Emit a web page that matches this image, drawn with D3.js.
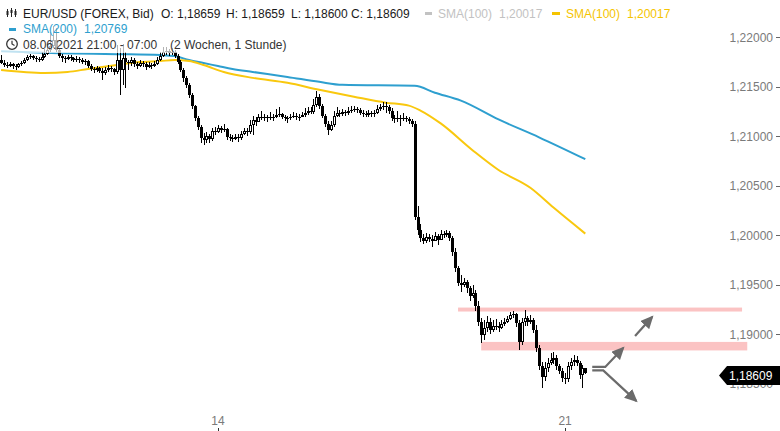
<!DOCTYPE html>
<html><head><meta charset="utf-8">
<script src="https://cdn.jsdelivr.net/npm/d3@7"></script>
<style>html,body{margin:0;padding:0;background:#fff;} svg{display:block;font-family:"Liberation Sans",Arial,sans-serif;}</style>
</head><body><svg id="c" width="780" height="431"></svg>
<script>
// ---- data (hourly EUR/USD candles, index 0..202) ----
const firstOpen = 1.2177;
const closes = [1.2174,1.2172,1.2171,1.2173,1.2171,1.2170,1.2173,1.2174,1.2177,1.2180,
1.2181,1.2179,1.2178,1.2177,1.2180,1.2183,1.2187,1.2191,1.2197,1.2187,
1.2181,1.2179,1.2178,1.2180,1.2179,1.2177,1.2178,1.2177,1.2175,1.2176,
1.2171,1.2168,1.2167,1.2169,1.2166,1.2164,1.2167,1.2169,1.2168,1.2165,
1.2177,1.2167,1.2179,1.2175,1.2174,1.2177,1.2173,1.2171,1.2174,1.2173,
1.2170,1.2172,1.2171,1.2173,1.2177,1.2181,1.2185,1.2186,1.2184,1.2185,
1.2181,1.2175,1.2167,1.2159,1.2152,1.2142,1.2131,1.2118,1.2109,1.2098,
1.2096,1.2100,1.2097,1.2105,1.2104,1.2108,1.2106,1.2107,1.2099,1.2098,
1.2097,1.2099,1.2098,1.2102,1.2105,1.2104,1.2111,1.2116,1.2114,1.2119,
1.2120,1.2119,1.2118,1.2120,1.2119,1.2122,1.2123,1.2120,1.2118,1.2118,
1.2119,1.2121,1.2119,1.2120,1.2122,1.2124,1.2126,1.2125,1.2132,1.2140,
1.2131,1.2121,1.2112,1.2106,1.2111,1.2121,1.2124,1.2123,1.2125,1.2124,
1.2126,1.2127,1.2128,1.2127,1.2124,1.2123,1.2122,1.2124,1.2123,1.2124,
1.2128,1.2130,1.2131,1.2130,1.2126,1.2118,1.2117,1.2118,1.2117,1.2118,
1.2117,1.2115,1.2112,1.2018,1.2005,1.1997,1.1994,1.1998,1.1996,1.1994,
1.1999,1.1995,1.2001,1.2000,1.2002,1.1997,1.1983,1.1967,1.1952,1.1950,
1.1953,1.1947,1.1939,1.1942,1.1929,1.1912,1.1899,1.1906,1.1912,1.1904,
1.1908,1.1908,1.1906,1.1910,1.1912,1.1915,1.1919,1.1921,1.1911,1.1892,
1.1912,1.1916,1.1912,1.1914,1.1904,1.1886,1.1868,1.1857,1.1866,1.1871,
1.1874,1.1876,1.1868,1.1863,1.1856,1.1855,1.1868,1.1872,1.1874,1.1871,
1.1859,1.18659,1.18609];
const highs = [1.2182,1.2177,1.2175,1.2175,1.2174,1.2173,1.2174,1.2176,1.2179,1.2182,
1.2183,1.2182,1.2181,1.2180,1.2185,1.2188,1.2193,1.2205,1.2211,1.2209,
1.2188,1.2183,1.2181,1.2182,1.2182,1.2180,1.2181,1.2180,1.2179,1.2178,
1.2177,1.2173,1.2170,1.2171,1.2170,1.2169,1.2170,1.2172,1.2171,1.2169,
1.2192,1.2189,1.2193,1.2185,1.2177,1.2180,1.2179,1.2175,1.2177,1.2176,
1.2175,1.2175,1.2174,1.2176,1.2180,1.2185,1.2190,1.2190,1.2188,1.2189,
1.2187,1.2183,1.2177,1.2169,1.2161,1.2154,1.2144,1.2132,1.2121,1.2111,
1.2103,1.2104,1.2102,1.2108,1.2109,1.2111,1.2110,1.2112,1.2108,1.2102,
1.2101,1.2102,1.2102,1.2105,1.2108,1.2108,1.2116,1.2121,1.2119,1.2123,
1.2126,1.2123,1.2122,1.2125,1.2123,1.2128,1.2130,1.2124,1.2122,1.2121,
1.2123,1.2125,1.2124,1.2123,1.2125,1.2129,1.2130,1.2130,1.2138,1.2146,
1.2143,1.2133,1.2123,1.2115,1.2115,1.2126,1.2130,1.2127,1.2128,1.2127,
1.2130,1.2131,1.2131,1.2130,1.2129,1.2127,1.2126,1.2127,1.2126,1.2127,
1.2132,1.2133,1.2135,1.2135,1.2132,1.2129,1.2122,1.2126,1.2122,1.2124,
1.2121,1.2119,1.2117,1.2115,1.2030,1.2011,1.2001,1.2002,1.2001,1.2000,
1.2003,1.2001,1.2005,1.2004,1.2005,1.2004,1.1999,1.1987,1.1969,1.1960,
1.1957,1.1955,1.1949,1.1950,1.1945,1.1934,1.1916,1.1914,1.1918,1.1916,
1.1914,1.1915,1.1912,1.1914,1.1916,1.1918,1.1923,1.1924,1.1922,1.1914,
1.1916,1.1925,1.1918,1.1919,1.1916,1.1909,1.1889,1.1872,1.1872,1.1876,
1.1881,1.1882,1.1879,1.1870,1.1866,1.1861,1.1872,1.1876,1.1879,1.1878,
1.1873,1.1869,1.18659];
const lows = [1.2173,1.2170,1.2169,1.2170,1.2168,1.2167,1.2169,1.2171,1.2173,1.2176,
1.2178,1.2177,1.2175,1.2175,1.2176,1.2179,1.2182,1.2185,1.2189,1.2185,
1.2179,1.2175,1.2174,1.2177,1.2176,1.2175,1.2175,1.2174,1.2173,1.2172,
1.2169,1.2166,1.2164,1.2165,1.2164,1.2157,1.2162,1.2165,1.2165,1.2162,
1.2163,1.2142,1.2152,1.2149,1.2167,1.2171,1.2170,1.2168,1.2170,1.2170,
1.2167,1.2169,1.2168,1.2170,1.2172,1.2176,1.2180,1.2182,1.2181,1.2182,
1.2179,1.2173,1.2165,1.2155,1.2149,1.2139,1.2128,1.2115,1.2106,1.2093,
1.2091,1.2093,1.2093,1.2095,1.2101,1.2103,1.2103,1.2104,1.2096,1.2095,
1.2094,1.2096,1.2094,1.2096,1.2101,1.2100,1.2102,1.2101,1.2110,1.2115,
1.2116,1.2115,1.2114,1.2116,1.2115,1.2118,1.2119,1.2117,1.2115,1.2113,
1.2116,1.2118,1.2116,1.2115,1.2119,1.2120,1.2122,1.2123,1.2123,1.2130,
1.2128,1.2118,1.2109,1.2101,1.2105,1.2109,1.2120,1.2120,1.2121,1.2121,
1.2122,1.2124,1.2125,1.2124,1.2122,1.2120,1.2119,1.2120,1.2119,1.2120,
1.2123,1.2126,1.2127,1.2124,1.2123,1.2115,1.2113,1.2114,1.2110,1.2115,
1.2114,1.2112,1.2109,1.2015,1.2000,1.1993,1.1991,1.1992,1.1993,1.1988,
1.1994,1.1990,1.1998,1.1997,1.1998,1.1994,1.1979,1.1963,1.1949,1.1943,
1.1948,1.1942,1.1934,1.1937,1.1924,1.1908,1.1891,1.1894,1.1902,1.1900,
1.1902,1.1904,1.1902,1.1905,1.1908,1.1911,1.1914,1.1916,1.1907,1.1884,
1.1889,1.1908,1.1908,1.1910,1.1901,1.1882,1.1864,1.1846,1.1853,1.1862,
1.1869,1.1870,1.1864,1.1860,1.1852,1.1850,1.1852,1.1864,1.1868,1.1868,
1.1855,1.1846,1.18600];

const sma200Idx = [0,20,40,55,60,65,70,75,80,87,99,110,118,143,150,159,172,186,202];
const sma200Val = [1.2186,1.2184,1.2183,1.2182,1.2181,1.2177,1.2174,1.2171,1.2168,1.2165,1.2160,1.2155,1.2152,1.2151,1.2144,1.2136,1.2117,1.2099,1.20769];
const sma100Idx = [0,15,23,30,40,48,55,60,65,70,77,87,99,110,122,133,141,145,152,163,172,183,191,202];
const sma100Val = [1.2167,1.2164,1.2165,1.2168,1.2172,1.2175,1.2176,1.2177,1.2176,1.2172,1.2165,1.2159,1.2154,1.2147,1.2140,1.2134,1.2131,1.2126,1.2113,1.2086,1.2066,1.2048,1.2028,1.20017];

const yTicks = [1.185,1.19,1.195,1.2,1.205,1.21,1.215,1.22];
const xTickIdx = [75,195];
const xTickLabels = ["14","21"];
const zoneFrom = [158,166], zoneTo = [256.2,258], zoneLo = [1.1923,1.18837], zoneHi = [1.1927,1.18923];
const arrowPaths = [
  [[204.4,1.1867],[208.9,1.1867],[215.1,1.18862]],
  [[204.4,1.18635],[208.2,1.18635],[219.6,1.18327]],
  [[219.2,1.18983],[225.1,1.19175]]
];
const lastPrice = 1.18609;

// ---- scales ----
const x = d3.scaleLinear().domain([0,202]).range([1.1,585.3]);
const y = d3.scaleLinear().domain([1.185,1.22]).range([383.8,37.3]);
const fmt = v => d3.format(".5f")(v).replace(".", ",");

const svg = d3.select("#c");
svg.append("rect").attr("width",780).attr("height",431).attr("fill","#fff");

// zones
zoneFrom.forEach((f,k)=>{
  svg.append("rect").attr("x",x(f)).attr("width",x(zoneTo[k])-x(f))
    .attr("y",y(zoneHi[k])).attr("height",y(zoneLo[k])-y(zoneHi[k]))
    .attr("fill","#fbc3c3");
});

// SMA lines
const line = d3.line().curve(d3.curveMonotoneX).x(d=>x(d[0])).y(d=>y(d[1]));
svg.append("path").datum(sma200Idx.map((v,k)=>[v,sma200Val[k]])).attr("d",line)
  .attr("fill","none").attr("stroke","#2e9fcf").attr("stroke-width",2);
svg.append("path").datum(sma100Idx.map((v,k)=>[v,sma100Val[k]])).attr("d",line)
  .attr("fill","none").attr("stroke","#f9c80e").attr("stroke-width",2);

// candles
const candles = closes.map((c,i)=>({i, o: i===0?firstOpen:closes[i-1], h:highs[i], l:lows[i], c}));
const cg = svg.append("g");
candles.forEach(d=>{
  const cx = Math.round(x(d.i));
  const hi = Math.max(d.h,d.o,d.c), lo = Math.min(d.l,d.o,d.c);
  cg.append("line").attr("x1",cx+0.5).attr("x2",cx+0.5)
    .attr("y1",Math.round(y(hi))).attr("y2",Math.round(y(lo))).attr("stroke","#000");
  const top = Math.round(y(Math.max(d.o,d.c))), bot = Math.round(y(Math.min(d.o,d.c)));
  if (d.c > d.o && bot-top >= 2) {
    cg.append("rect").attr("x",cx-0.5).attr("y",top+0.5).attr("width",2).attr("height",bot-top-1)
      .attr("fill","#fff").attr("stroke","#000").attr("stroke-width",1);
  } else {
    cg.append("rect").attr("x",cx-1).attr("y",top).attr("width",3).attr("height",Math.max(bot-top,1))
      .attr("fill","#000");
  }
});

// arrows
const defs = svg.append("defs");
defs.append("marker").attr("id","ah").attr("markerUnits","userSpaceOnUse")
  .attr("markerWidth",14).attr("markerHeight",12).attr("refX",11).attr("refY",6)
  .attr("orient","auto").append("path").attr("d","M0,0 L13,6 L0,12 Z").attr("fill","#6b6b6b");
const aline = d3.line().x(d=>x(d[0])).y(d=>y(d[1]));
arrowPaths.forEach(p=>{
  svg.append("path").datum(p).attr("d",aline).attr("fill","none")
    .attr("stroke","#6b6b6b").attr("stroke-width",2.2).attr("marker-end","url(#ah)");
});

// y axis
const ya = svg.append("g");
yTicks.forEach(t=>{
  ya.append("text").attr("x",773).attr("y",y(t)).attr("dy","0.36em").attr("text-anchor","end")
    .attr("font-size",12).attr("fill","#7a7a7a").text(fmt(t));
  ya.append("line").attr("x1",776).attr("x2",780).attr("y1",Math.round(y(t))+0.5).attr("y2",Math.round(y(t))+0.5)
    .attr("stroke","#666");
});
// x axis
xTickIdx.forEach((t,k)=>{
  svg.append("text").attr("x",x(t)).attr("y",425).attr("text-anchor","middle")
    .attr("font-size",12).attr("fill","#7a7a7a").text(xTickLabels[k]);
  svg.append("line").attr("x1",Math.round(x(t))+0.5).attr("x2",Math.round(x(t))+0.5)
    .attr("y1",428).attr("y2",431).attr("stroke","#333");
});

// current price label
const cy = y(lastPrice) + 2.5;
svg.append("path").attr("d",`M719,${cy} L727,${cy-9.5} L780,${cy-9.5} L780,${cy+9.5} L727,${cy+9.5} Z`).attr("fill","#000");
svg.append("text").attr("x",729).attr("y",cy+4.5).attr("font-size",12).attr("fill","#fff").text(fmt(lastPrice));

// legend backgrounds
[[0,4,678,17],[0,21,136,16],[0,37,292,16]].forEach(r=>{
  svg.append("rect").attr("x",r[0]).attr("y",r[1]).attr("width",r[2]).attr("height",r[3])
    .attr("fill","#fff").attr("opacity",0.7);
});
const lg = svg.append("g").attr("font-size",12);
const items = [
  [23,17.5,"EUR/USD (FOREX, Bid)","#1a1a1a"],
  [161,17.5,"O: 1,18659","#1a1a1a"],
  [226,17.5,"H: 1,18659","#1a1a1a"],
  [291,17.5,"L: 1,18600","#1a1a1a"],
  [351,17.5,"C: 1,18609","#1a1a1a"],
  [438,17.5,"SMA(100)","#c2c2c2"],
  [499,17.5,"1,20017","#c2c2c2"],
  [566,17.5,"SMA(100)","#f5c400"],
  [627,17.5,"1,20017","#f5c400"],
  [23,33,"SMA(200)","#2e9fcf"],
  [84,33,"1,20769","#2e9fcf"],
  [23,48.5,"08.06.2021 21:00 - 07:00","#333"],
  [170,48.5,"(2 Wochen, 1 Stunde)","#333"]
];
items.forEach(t=>lg.append("text").attr("x",t[0]).attr("y",t[1]).attr("fill",t[3]).text(t[2]));
lg.append("rect").attr("x",425).attr("y",12).attr("width",7).attr("height",3).attr("fill","#c2c2c2");
lg.append("rect").attr("x",552).attr("y",12).attr("width",8).attr("height",3).attr("fill","#f5c400");
lg.append("rect").attr("x",9).attr("y",28).attr("width",7).attr("height",3).attr("fill","#2e9fcf");
// candle icon
[[7,9,17,11,15],[11,8,17,10,13],[15,9,17,11,15]].forEach(c=>{
  lg.append("line").attr("x1",c[0]+0.5).attr("x2",c[0]+0.5).attr("y1",c[1]).attr("y2",c[2]).attr("stroke","#222");
  lg.append("rect").attr("x",c[0]-0.5).attr("y",c[3]).attr("width",2).attr("height",c[4]-c[3]).attr("fill","#222");
});
// clock icon
lg.append("circle").attr("cx",12).attr("cy",44).attr("r",5.3).attr("fill","none").attr("stroke","#333").attr("stroke-width",1.3);
lg.append("path").attr("d","M12,40.8 L12,44 L14.5,45.5").attr("fill","none").attr("stroke","#333").attr("stroke-width",1.2);
</script>
</body></html>
